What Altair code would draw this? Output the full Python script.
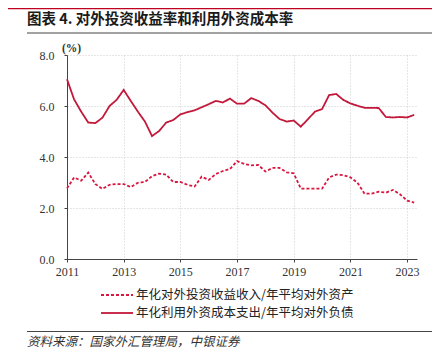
import altair as alt
import pandas as pd

# ---- data ----
years = list(range(2011, 2024))
quarter_offsets = [0.0, 0.25, 0.5, 0.75]
quarters = [y + q for y in years for q in quarter_offsets][:50]

income_rate = [2.77, 3.20, 3.07, 3.39,
               2.94, 2.75, 2.91, 2.94,
               2.94, 2.82, 2.99, 3.02,
               3.25, 3.35, 3.31, 3.02,
               3.02, 2.91, 2.84, 3.23,
               3.10, 3.33, 3.45, 3.53,
               3.84, 3.73, 3.67, 3.69,
               3.43, 3.57, 3.57, 3.40,
               3.36, 2.76, 2.76, 2.76,
               2.76, 3.20, 3.31, 3.29,
               3.20, 2.99, 2.56, 2.56,
               2.64, 2.60, 2.71, 2.54,
               2.29, 2.21]

cost_rate = [7.05, 6.26, 5.78, 5.35,
             5.33, 5.54, 6.00, 6.24,
             6.63, 6.20, 5.78, 5.39,
             4.82, 5.02, 5.35, 5.45,
             5.67, 5.76, 5.83, 5.95,
             6.07, 6.20, 6.14, 6.29,
             6.09, 6.09, 6.31, 6.20,
             6.03, 5.74, 5.49, 5.39,
             5.43, 5.19, 5.48, 5.78,
             5.88, 6.43, 6.47, 6.24,
             6.10, 6.01, 5.93, 5.93,
             5.92, 5.57, 5.55, 5.57,
             5.55, 5.65]

series_names = ["年化对外投资收益收入/年平均对外资产", "年化利用外资成本支出/年平均对外负债"]
series_colors = ["#D9163F", "#C2183A"]
x_tick_values = [2011, 2013, 2015, 2017, 2019, 2021, 2023]
y_tick_values = [0, 2, 4, 6, 8]

title_text = "图表 4. 对外投资收益率和利用外资成本率"
unit_text = "(%)"
source_text = "资料来源：国家外汇管理局，中银证券"

df = pd.DataFrame({
    "t": quarters + quarters,
    "v": income_rate + cost_rate,
    "s": [series_names[0]] * len(quarters) + [series_names[1]] * len(quarters),
})

W, H = 350, 204
CJK = "Noto Sans CJK SC"
SERIF = "Liberation Serif"
one = pd.DataFrame({"a": [0]})

lines = alt.Chart(df).mark_line(strokeWidth=1.8).encode(
    x=alt.X("t:Q", title=None,
            scale=alt.Scale(domain=[2011, 2023.35], nice=False, zero=False),
            axis=alt.Axis(values=x_tick_values, format="d", grid=True,
                          labelPadding=4, tickSize=3, labelFlush=False)),
    y=alt.Y("v:Q", title=None,
            scale=alt.Scale(domain=[0, 8], nice=False),
            axis=alt.Axis(values=y_tick_values, format=".1f", grid=True,
                          labelPadding=10, tickSize=3)),
    color=alt.Color("s:N", scale=alt.Scale(domain=series_names, range=series_colors), legend=None),
    strokeDash=alt.StrokeDash("s:N", scale=alt.Scale(domain=series_names, range=[[3, 2], [1, 0]]), legend=None),
)

def rule(x1, x2, y, color, width, dash=None):
    kw = dict(color=color, strokeWidth=width)
    if dash:
        kw["strokeDash"] = dash
    return alt.Chart(one).mark_rule(**kw).encode(
        x=alt.value(x1), x2=alt.value(x2), y=alt.value(y))

def text(s, x, y, size, font=CJK, weight="normal", style="normal", color="#222", align="left"):
    return alt.Chart(one).mark_text(align=align, baseline="middle", font=font, fontSize=size,
                                    fontWeight=weight, fontStyle=style, color=color).encode(
        x=alt.value(x), y=alt.value(y), text=alt.value(s))

layers = [
    lines,
    rule(-59, 365, -46.5, "#C00020", 1.5),
    text(title_text, -40, -35.5, 14.5, weight="bold", color="#1a1a1a"),
    rule(-40, 365, -22, "#444", 1),
    text(unit_text, 4.5, -6, 11.5, font=SERIF, weight="bold", color="#333", align="center"),
    rule(34, 66, 240, series_colors[0], 1.8, [3, 2]),
    text(series_names[0], 69, 240, 12.5),
    rule(34, 66, 258, series_colors[1], 1.8),
    text(series_names[1], 69, 258, 12.5),
    rule(-40, 365, 276.5, "#444", 1),
    text(source_text, -40, 287, 12.5, style="italic", color="#333"),
]

chart = alt.layer(*layers).properties(
    width=W, height=H,
    autosize=alt.AutoSizeParams(type="none"),
    padding={"left": 59, "top": 47, "right": 15, "bottom": 95},
).configure_view(stroke=None).configure_axis(
    gridDash=[1, 2], gridColor="#cccccc", gridWidth=1,
    domainColor="#444", tickColor="#444", domainWidth=1,
    labelFont=SERIF, labelFontSize=12, labelColor="#333",
)

chart.save("out.html", embed_options={"renderer": "svg", "actions": False})
